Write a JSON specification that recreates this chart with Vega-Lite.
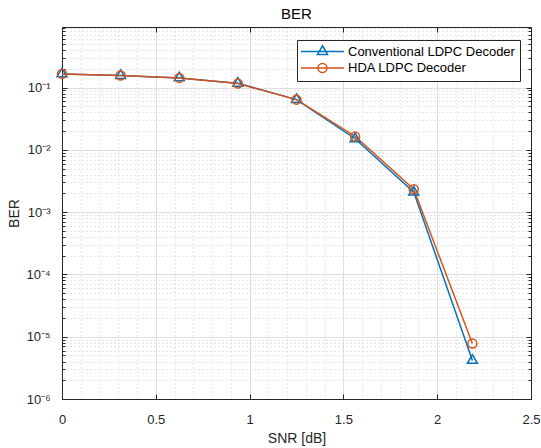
{
  "$schema": "https://vega.github.io/schema/vega-lite/v6.json",
  "width": 469,
  "height": 372,
  "autosize": {"type": "none"},
  "padding": {"left": 62, "top": 27, "right": 10, "bottom": 49},
  "background": "white",
  "config": {
    "view": {"stroke": null},
    "font": "Liberation Sans",
    "axis": {
      "labelFont": "Liberation Sans",
      "titleFont": "Liberation Sans",
      "labelColor": "#262626",
      "titleColor": "#262626",
      "domainColor": "#262626",
      "tickColor": "#262626",
      "titleFontWeight": "normal",
      "labelFontSize": 13,
      "titleFontSize": 14,
      "labelOverlap": false,
      "labelFlush": false
    }
  },
  "title": {"text": "BER", "fontSize": 15, "fontWeight": "normal", "color": "#000000", "font": "Liberation Sans", "offset": 0},
  "data": {
    "values": [
      {"snr": 0, "ber": 0.166, "decoder": "Conventional LDPC Decoder"},
      {"snr": 0.3125, "ber": 0.156, "decoder": "Conventional LDPC Decoder"},
      {"snr": 0.625, "ber": 0.143, "decoder": "Conventional LDPC Decoder"},
      {"snr": 0.9375, "ber": 0.117, "decoder": "Conventional LDPC Decoder"},
      {"snr": 1.25, "ber": 0.0641, "decoder": "Conventional LDPC Decoder"},
      {"snr": 1.5625, "ber": 0.0151, "decoder": "Conventional LDPC Decoder"},
      {"snr": 1.875, "ber": 0.0021, "decoder": "Conventional LDPC Decoder"},
      {"snr": 2.1875, "ber": 0.00000417, "decoder": "Conventional LDPC Decoder"},
      {"snr": 0, "ber": 0.166, "decoder": "HDA LDPC Decoder"},
      {"snr": 0.3125, "ber": 0.156, "decoder": "HDA LDPC Decoder"},
      {"snr": 0.625, "ber": 0.1432, "decoder": "HDA LDPC Decoder"},
      {"snr": 0.9375, "ber": 0.1159, "decoder": "HDA LDPC Decoder"},
      {"snr": 1.25, "ber": 0.0641, "decoder": "HDA LDPC Decoder"},
      {"snr": 1.5625, "ber": 0.01644, "decoder": "HDA LDPC Decoder"},
      {"snr": 1.875, "ber": 0.00234, "decoder": "HDA LDPC Decoder"},
      {"snr": 2.1875, "ber": 0.0000078, "decoder": "HDA LDPC Decoder"}
    ]
  },
  "layer": [
    {
      "transform": [{"filter": "datum.decoder === 'Conventional LDPC Decoder'"}],
      "mark": {"type": "line", "color": "#0072BD", "strokeWidth": 1.5},
      "encoding": {
        "x": {
          "field": "snr", "type": "quantitative",
          "scale": {"domain": [0, 2.5], "nice": false, "zero": false},
          "axis": {
            "orient": "bottom",
            "title": "SNR [dB]",
            "values": [0,0.1,0.2,0.3,0.4,0.5,0.6,0.7,0.8,0.9,1,1.1,1.2,1.3,1.4,1.5,1.6,1.7,1.8,1.9,2,2.1,2.2,2.3,2.4,2.5],
            "labelExpr": "abs(datum.value*2 - round(datum.value*2)) < 0.000001 ? format(datum.value, '~g') : ''",
            "labelPadding": 19,
            "titlePadding": 0,
            "grid": true,
            "gridColor": {"condition": {"test": "abs(datum.value*2 - round(datum.value*2)) < 0.000001", "value": "#dedede"}, "value": "#cccccc"},
            "gridDash": {"condition": {"test": "abs(datum.value*2 - round(datum.value*2)) < 0.000001", "value": []}, "value": [1, 3]},
            "gridWidth": 1,
            "tickSize": {"condition": {"test": "abs(datum.value*2 - round(datum.value*2)) < 0.000001", "value": -5}, "value": 0}
          }
        },
        "y": {
          "field": "ber", "type": "quantitative",
          "scale": {"type": "log", "domain": [0.000001, 0.94], "nice": false},
          "axis": {
            "orient": "left",
            "title": "BER",
            "values": [0.000001,0.000002,0.000003,0.000004,0.000005,0.000006,0.000007,0.000008,0.000009,0.00001,0.00002,0.00003,0.00004,0.00005,0.00006,0.00007,0.00008,0.00009,0.0001,0.0002,0.0003,0.0004,0.0005,0.0006,0.0007,0.0008,0.0009,0.001,0.002,0.003,0.004,0.005,0.006,0.007,0.008,0.009,0.01,0.02,0.03,0.04,0.05,0.06,0.07,0.08,0.09,0.1,0.2,0.3,0.4,0.5,0.6,0.7,0.8,0.9],
            "labelExpr": "abs(log(datum.value)/LN10 - round(log(datum.value)/LN10)) < 0.001 ? '10' + ['⁰','⁻¹','⁻²','⁻³','⁻⁴','⁻⁵','⁻⁶'][-round(log(datum.value)/LN10)] : ''",
            "labelPadding": 17,
            "titlePadding": 4,
            "grid": true,
            "gridColor": {"condition": {"test": "abs(log(datum.value)/LN10 - round(log(datum.value)/LN10)) < 0.001", "value": "#dedede"}, "value": "#cccccc"},
            "gridDash": {"condition": {"test": "abs(log(datum.value)/LN10 - round(log(datum.value)/LN10)) < 0.001", "value": []}, "value": [1, 3]},
            "gridWidth": 1,
            "tickSize": {"condition": {"test": "abs(log(datum.value)/LN10 - round(log(datum.value)/LN10)) < 0.001", "value": -5}, "value": -3}
          }
        }
      }
    },
    {
      "transform": [{"filter": "datum.decoder === 'HDA LDPC Decoder'"}],
      "mark": {"type": "line", "color": "#D95319", "strokeWidth": 1.5},
      "encoding": {
        "x": {
          "field": "snr", "type": "quantitative",
          "axis": {"orient": "top", "title": null, "labels": false, "grid": false, "values": [0,0.5,1,1.5,2,2.5], "tickSize": -5}
        },
        "y": {
          "field": "ber", "type": "quantitative",
          "axis": {
            "orient": "right", "title": null, "labels": false, "grid": false,
            "values": [0.000001,0.000002,0.000003,0.000004,0.000005,0.000006,0.000007,0.000008,0.000009,0.00001,0.00002,0.00003,0.00004,0.00005,0.00006,0.00007,0.00008,0.00009,0.0001,0.0002,0.0003,0.0004,0.0005,0.0006,0.0007,0.0008,0.0009,0.001,0.002,0.003,0.004,0.005,0.006,0.007,0.008,0.009,0.01,0.02,0.03,0.04,0.05,0.06,0.07,0.08,0.09,0.1,0.2,0.3,0.4,0.5,0.6,0.7,0.8,0.9],
            "tickSize": {"condition": {"test": "abs(log(datum.value)/LN10 - round(log(datum.value)/LN10)) < 0.001", "value": -5}, "value": -3}
          }
        }
      }
    },
    {
      "transform": [{"filter": "datum.decoder === 'Conventional LDPC Decoder'"}],
      "mark": {"type": "point", "filled": false, "strokeWidth": 1.5, "size": 100, "opacity": 1, "color": "#0072BD", "shape": "M0,-1.15L1,0.58L-1,0.58Z"},
      "encoding": {
        "x": {"field": "snr", "type": "quantitative", "axis": null},
        "y": {"field": "ber", "type": "quantitative", "axis": null}
      }
    },
    {
      "transform": [{"filter": "datum.decoder === 'HDA LDPC Decoder'"}],
      "mark": {"type": "point", "filled": false, "strokeWidth": 1.5, "size": 100, "opacity": 1, "color": "#D95319", "shape": "M0.9,0A0.9,0.9,0,1,1,-0.9,0A0.9,0.9,0,1,1,0.9,0"},
      "encoding": {
        "x": {"field": "snr", "type": "quantitative", "axis": null},
        "y": {"field": "ber", "type": "quantitative", "axis": null}
      }
    },
    {
      "transform": [{"filter": "false"}],
      "mark": {"type": "point", "filled": false, "strokeWidth": 1.5, "size": 100, "opacity": 1},
      "encoding": {
        "x": {"field": "snr", "type": "quantitative", "axis": null},
        "y": {"field": "ber", "type": "quantitative", "axis": null},
        "color": {
          "field": "decoder", "type": "nominal",
          "scale": {"domain": ["Conventional LDPC Decoder", "HDA LDPC Decoder"], "range": ["#0072BD", "#D95319"]},
          "legend": {
            "title": null,
            "orient": "none",
            "legendX": 235,
            "legendY": 13,
            "padding": 5,
            "strokeColor": "#262626",
            "fillColor": "#ffffff",
            "cornerRadius": 0,
            "symbolSize": 100,
            "symbolStrokeWidth": 1.5,
            "symbolOffset": 14,
            "labelOffset": 19,
            "rowPadding": 1.5,
            "labelFontSize": 13,
            "labelLimit": 0,
            "labelFont": "Liberation Sans",
            "labelColor": "#000000"
          }
        },
        "shape": {
          "field": "decoder", "type": "nominal",
          "scale": {"domain": ["Conventional LDPC Decoder", "HDA LDPC Decoder"], "range": ["M-4.3,0H4.3M0,-1.15L1,0.58L-1,0.58Z", "M-4.3,0H4.3M0.9,0A0.9,0.9,0,1,1,-0.9,0A0.9,0.9,0,1,1,0.9,0"]}
        }
      }
    }
  ],
  "resolve": {"axis": {"x": "independent", "y": "independent"}}
}
